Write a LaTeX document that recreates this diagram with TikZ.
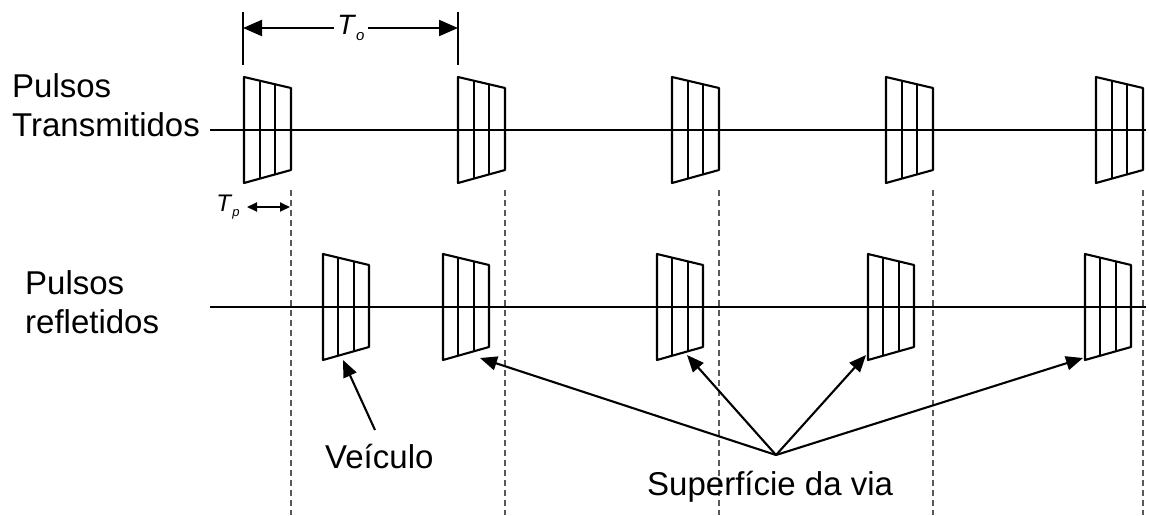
\documentclass[tikz,border=0pt]{standalone}
\usepackage{fontspec}
\setmainfont{Liberation Sans}
\usetikzlibrary{arrows.meta}
\newcommand\drawpulse[3]{%
  \draw[pulseline] ({#1},{#2-53}) -- ({#1+#3},{#2-42}) -- ({#1+#3},{#2+40}) -- ({#1},{#2+53}) -- cycle;
  \foreach \k in {1,2}{%
    \draw[pulseline] ({#1+\k*#3/3},{#2-53+\k*11/3}) -- ({#1+\k*#3/3},{#2+53-\k*13/3});
  }%
}
\begin{document}
\begin{tikzpicture}[x=1pt,y=-1pt,line join=round,
  axis/.style={line width=2.3pt},
  pulseline/.style={line width=2.1pt},
  guide/.style={line width=1.7pt,dash pattern=on 6pt off 4pt,black!65},
  lbl/.style={font=\fontsize{33}{39}\selectfont,inner sep=0pt,align=left},
  bigarrow/.style={-{Triangle[length=17pt,width=14pt]},line width=2.1pt},
  tick/.style={line width=2.1pt}]
\useasboundingbox (0,0) rectangle (1149,515);
% labels
\node[lbl,anchor=north west] (tx) at (12,73) {Pulsos\\Transmitidos};
\node[lbl,anchor=north west] (rx) at (25,270) {Pulsos\\refletidos};
% baselines
\draw[axis] (210,130) -- (1146,130);
\draw[axis] (210,307) -- (1146,307);
% dashed guides
\foreach \x in {291,505,719,933,1143}{\draw[guide] (\x,190) -- (\x,515);}
% transmitted pulses
\foreach \x in {244,458,672,886,1096}{\drawpulse{\x}{130}{47}}
% reflected pulses
\foreach \x in {323,443,657,868,1085}{\drawpulse{\x}{307}{46}}
% T_o dimension
\draw[tick] (243,12) -- (243,65);
\draw[tick] (458,12) -- (458,65);
\coordinate (tal) at (243,28);
\coordinate (tbl) at (458,28);
\node[font=\fontsize{28}{30}\selectfont,inner sep=3pt] (to) at (351,28) {\textit{T}\raisebox{-0.35ex}{\fontsize{15}{16}\selectfont\textit{o}}};
\draw[tick,-{Triangle[length=19pt,width=16pt]}] (to.west) -- (tal);
\draw[tick,-{Triangle[length=19pt,width=16pt]}] (to.east) -- (tbl);
% T_p
\node[font=\fontsize{24}{26}\selectfont,inner sep=0pt] (tp) at (228,207) {\textit{T}\raisebox{-0.4ex}{\fontsize{13}{14}\selectfont\textit{p}}};
\coordinate (tpa) at (247,207);
\coordinate (tpb) at (290,207);
\draw[line width=1.9pt,{Triangle[length=10pt,width=9pt]}-{Triangle[length=10pt,width=9pt]}] (tpa) -- (tpb);
% vehicle
\node[lbl,anchor=base west] (veh) at (325,468) {Veículo};
\coordinate (vtail) at (375,430);
\coordinate (vtip) at (343,360);
\draw[bigarrow] (vtail) -- (vtip);
% road surface
\node[lbl,anchor=base west] (sup) at (647,495) {Superfície da via};
\coordinate (apex) at (776,455);
\coordinate (r2) at (480,358);
\coordinate (r3) at (687,355);
\coordinate (r4) at (866,355);
\coordinate (r5) at (1083,358);
\foreach \t in {r2,r3,r4,r5}{\draw[bigarrow] (apex) -- (\t);}
\end{tikzpicture}
\end{document}
